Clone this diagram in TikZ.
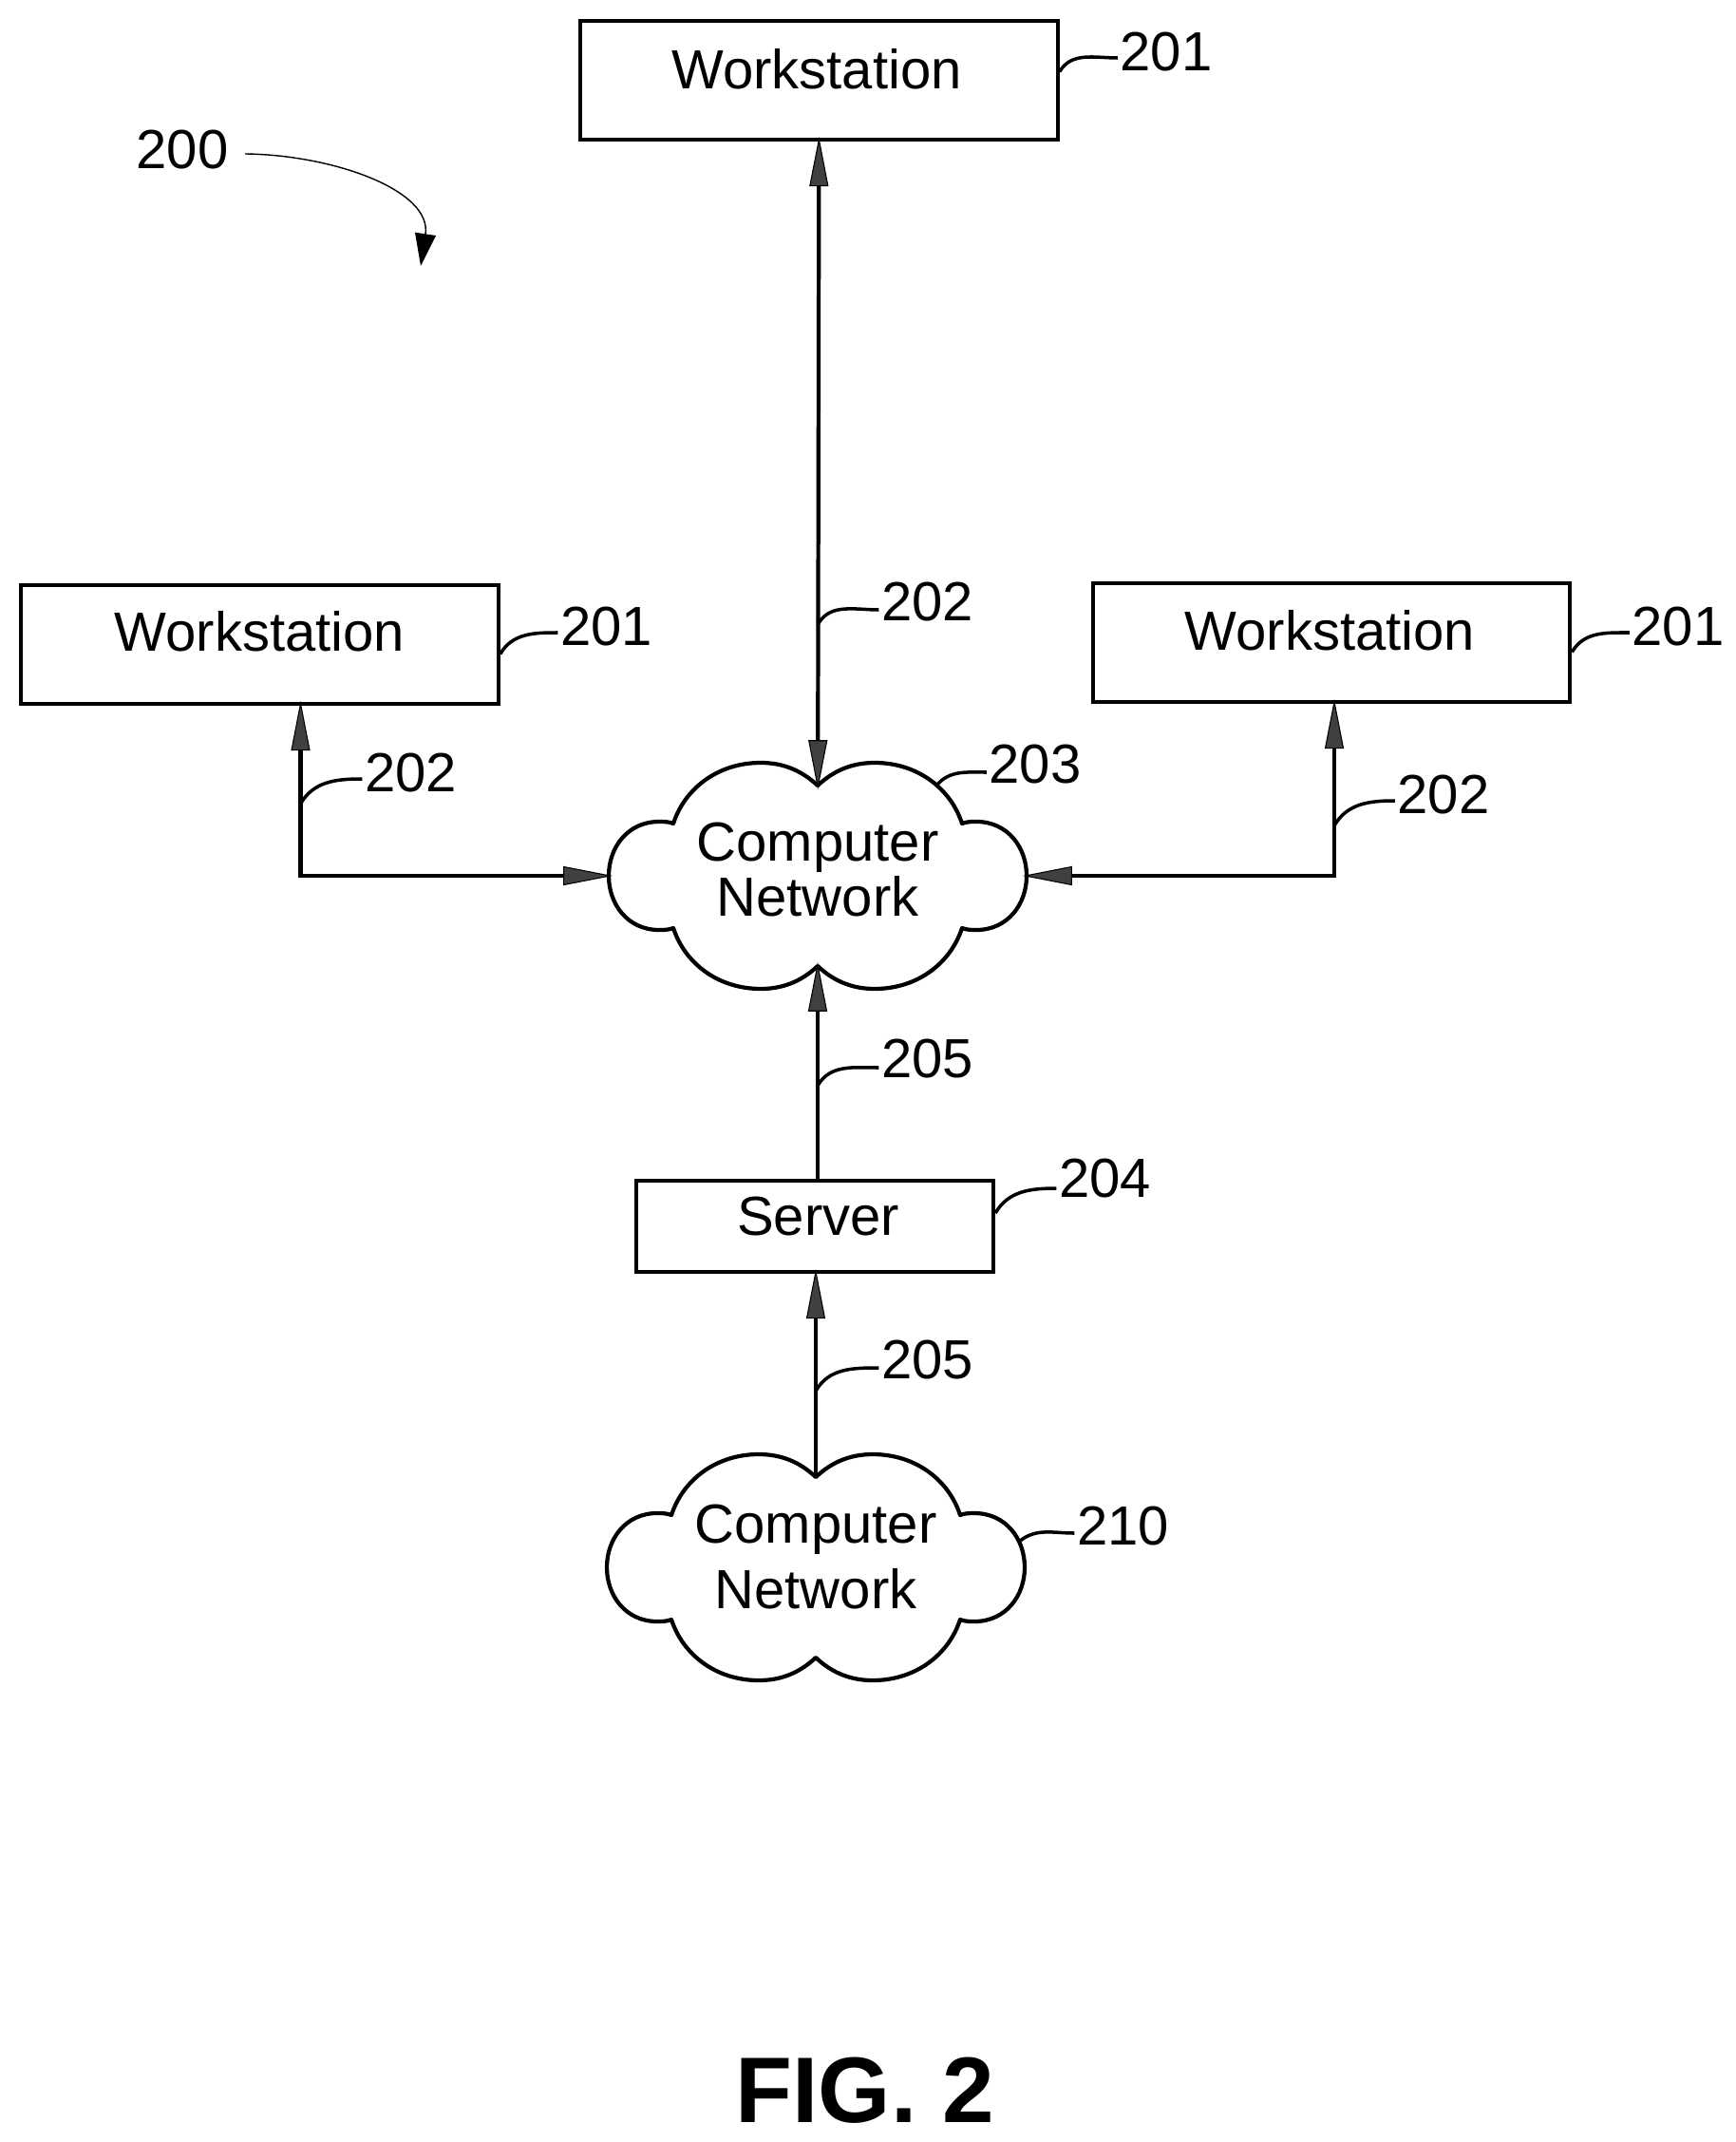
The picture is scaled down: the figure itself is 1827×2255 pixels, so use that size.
\documentclass[tikz,border=0pt]{standalone}
\usepackage{fontspec}
\setmainfont{Liberation Sans}
\usepackage{tikz}
\usetikzlibrary{calc}
\usetikzlibrary{arrows.meta,positioning}
\tikzstyle{block} = [rectangle, draw, line width=1.2pt, align=center, text depth=0.2cm,
    minimum width=5.02cm, minimum height=1.25cm, inner sep=0pt]
\tikzstyle{netnode} = [rectangle, align=center, inner sep=0pt, minimum width=4.4cm, minimum height=1.9cm]
\tikzstyle{refnum} = [inner sep=0pt]
\tikzstyle{line} = [draw, line width=1.2pt, shorten >=-0.05cm, -{Triangle[length=0.52cm,width=0.2cm,line width=0.3pt,fill=black!75]}]
\tikzstyle{biline} = [line, shorten <=-0.05cm, {Triangle[length=0.52cm,width=0.2cm,line width=0.3pt,fill=black!75]}-{Triangle[length=0.52cm,width=0.2cm,line width=0.3pt,fill=black!75]}]
\tikzstyle{leader} = [draw, line width=1pt]
\tikzstyle{cloudline} = [draw, line width=1.2pt, line join=round]
\newcommand{\cloudoutline}[1]{
  \draw[cloudline, shift={(#1.center)}] (0,-95)
    .. controls (18,-112) and (38,-119) .. (60,-119)
    .. controls (105,-119) and (140,-92) .. (152,-55)
    .. controls (157,-57) and (162,-57) .. (167,-57)
    .. controls (200,-57) and (220,-30) .. (220,0)
    .. controls (220,30) and (200,57) .. (167,57)
    .. controls (162,57) and (157,57) .. (152,55)
    .. controls (140,92) and (105,119) .. (60,119)
    .. controls (38,119) and (18,112) .. (0,95)
    .. controls (-18,112) and (-38,119) .. (-60,119)
    .. controls (-105,119) and (-140,92) .. (-152,55)
    .. controls (-157,57) and (-162,57) .. (-167,57)
    .. controls (-200,57) and (-220,30) .. (-220,0)
    .. controls (-220,-30) and (-200,-57) .. (-167,-57)
    .. controls (-162,-57) and (-157,-57) .. (-152,-55)
    .. controls (-140,-92) and (-105,-119) .. (-60,-119)
    .. controls (-38,-119) and (-18,-112) .. (0,-95) -- cycle;
}
\begin{document}
\begin{tikzpicture}[x=0.01cm, y=-0.01cm, font=\fontsize{16.5pt}{20pt}\selectfont]
\useasboundingbox (0,0) rectangle (1827,2255);
\node[block,text depth=0.24cm](WS_top) at (862.5,84.5) {Workstation\hspace*{0.05cm}};
\node[block,text depth=0.286cm](WS_left) at (273.5,678.5) {Workstation};
\node[block,text depth=0.26cm](WS_right) at (1402,676.5) {Workstation\hspace*{0.03cm}};
\node[netnode,font=\fontsize{16.5pt}{16.4pt}\selectfont,text depth=0.13cm](CN_main) at (861,922) {Computer\\Network};
\node[block,minimum width=3.76cm,minimum height=0.96cm,text depth=0.22cm](SV) at (858,1291) {\hspace*{0.07cm}Server};
\node[netnode,font=\fontsize{16.5pt}{19.6pt}\selectfont,text depth=0.22cm](CN_ext) at (859,1650) {Computer\\Network};
\cloudoutline{CN_main}
\cloudoutline{CN_ext}
%Links:
\coordinate (WS_left_port) at ($(WS_left.south)+(43,0)$);
\coordinate (WS_right_port) at ($(WS_right.south)+(3,0)$);
\path(WS_top)edge[biline](CN_main);
\draw[biline](WS_left_port) |- (CN_main.west);
\draw[biline](WS_right_port) |- (CN_main.east);
\path(SV.north -| CN_main.south)edge[line](CN_main.south);
\path(CN_ext.north)edge[line](CN_ext.north |- SV.south);
%Reference numerals:
\node[refnum](R_200) at (192,158) {200};
\node[refnum](R_201_top) at (1228,55) {201};
\node[refnum](R_201_left) at (638.5,660) {201};
\node[refnum](R_201_right) at (1767,660) {201};
\node[refnum](R_202_top) at (976.5,634) {202};
\node[refnum](R_202_left) at (432.5,814) {202};
\node[refnum](R_202_right) at (1520,837) {202};
\node[refnum](R_203) at (1090,805) {203};
\node[refnum](R_204) at (1163.5,1241) {204};
\node[refnum](R_205_up) at (976.5,1115) {205};
\node[refnum](R_205_low) at (976.5,1432) {205};
\node[refnum](R_210) at (1182.5,1607) {210};
%Leaders:
\coordinate (T_200) at (443,280);
\draw[line width=0.4pt,-{Triangle[length=0.34cm,width=0.22cm]}] ($(R_200.east)+(17,4)$) .. controls (350,163) and (455,200) .. (T_200);
\path($(WS_top.east)+(0,-9)$)edge[leader,out=60,in=180]($(R_201_top.west)+(-2,6)$);
\path($(WS_left.east)+(0,10)$)edge[leader,out=60,in=180]($(R_201_left.west)+(-2,6)$);
\path($(WS_right.east)+(0,10)$)edge[leader,out=60,in=180]($(R_201_right.west)+(-2,6)$);
\path($(WS_top.south)!0.75!(CN_main.north)$)edge[leader,out=60,in=180]($(R_202_top.west)+(-2,8)$);
\path($(WS_left_port)+(0,103)$)edge[leader,out=60,in=180]($(R_202_left.west)+(-2,6)$);
\path($(WS_right_port)+(0,128)$)edge[leader,out=60,in=180]($(R_202_right.west)+(-2,6)$);
\path($(CN_main.center)+(125,-95)$)edge[leader,out=50,in=180]($(R_203.west)+(-2,8)$);
\path($(SV.east)+(0,-14)$)edge[leader,out=60,in=180]($(R_204.west)+(-2,10)$);
\path($(SV.north -| CN_main.south)+(0,-98)$)edge[leader,out=60,in=180]($(R_205_up.west)+(-2,9)$);
\path($(CN_ext.north)+(0,-90)$)edge[leader,out=60,in=180]($(R_205_low.west)+(-2,8)$);
\path($(CN_ext.center)+(214,-27)$)edge[leader,out=40,in=180]($(R_210.west)+(-2,7)$);
%Title:
\node[font=\fontsize{27.9pt}{32pt}\selectfont\bfseries,inner sep=0pt](FIG) at (911,2201) {FIG. 2};
\end{tikzpicture}
\end{document}
